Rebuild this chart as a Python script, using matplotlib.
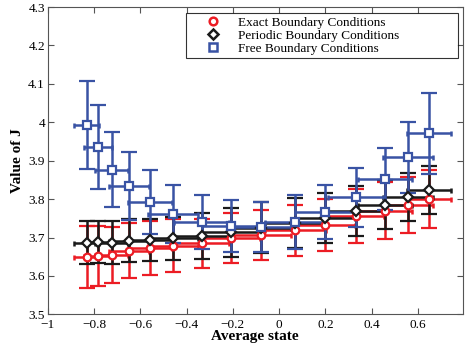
import numpy as np
import matplotlib
matplotlib.use('Agg')
import matplotlib.pyplot as plt
from matplotlib.lines import Line2D
from matplotlib.ticker import FuncFormatter, MultipleLocator

plt.rcParams['font.family'] = ['Liberation Serif', 'DejaVu Serif']

# dados
estado_medio = [-0.832, -0.784, -0.724, -0.648, -0.558, -0.457, -0.335, -0.208,
                -0.079, 0.071, 0.198, 0.332, 0.457, 0.558, 0.648]
erro_estado = [0.054, 0.060, 0.073, 0.086, 0.095, 0.108, 0.120, 0.125,
               0.130, 0.130, 0.130, 0.120, 0.116, 0.108, 0.093]

j_exato = [3.649, 3.652, 3.654, 3.666, 3.672, 3.679, 3.685, 3.698,
           3.706, 3.719, 3.733, 3.755, 3.770, 3.785, 3.800]
erro_exato = [0.081, 0.077, 0.073, 0.072, 0.070, 0.068, 0.064, 0.065,
              0.065, 0.066, 0.068, 0.070, 0.075, 0.073, 0.076]

j_periodico = [3.687, 3.689, 3.686, 3.692, 3.694, 3.698, 3.705, 3.714,
               3.726, 3.737, 3.751, 3.769, 3.785, 3.806, 3.824]
erro_periodico = [0.056, 0.055, 0.056, 0.055, 0.055, 0.056, 0.060, 0.064,
                  0.066, 0.065, 0.065, 0.065, 0.064, 0.062, 0.063]

j_livre = [3.993, 3.936, 3.877, 3.834, 3.793, 3.762, 3.740, 3.730,
           3.728, 3.741, 3.766, 3.805, 3.852, 3.909, 3.971]
erro_livre = [0.115, 0.109, 0.097, 0.089, 0.083, 0.075, 0.071, 0.068,
              0.065, 0.070, 0.071, 0.077, 0.080, 0.093, 0.105]

rotulos = ['Exact Boundary Conditions', 'Periodic Boundary Conditions',
           'Free Boundary Conditions']

cor_vermelho = '#ec1c24'
cor_preto = '#1a1a1a'
cor_azul = '#3953a4'

fig = plt.figure(figsize=(4.69, 3.52), dpi=100)
ax = fig.add_axes([0.1017, 0.107, 0.885, 0.873])

series = [
    (j_exato, erro_exato, cor_vermelho, 'o'),
    (j_periodico, erro_periodico, cor_preto, 'D'),
    (j_livre, erro_livre, cor_azul, 's'),
]

for y, ey, cor, marc in series:
    # barras horizontais (tampas pequenas)
    ax.errorbar(estado_medio, y, xerr=erro_estado, color=cor, ls='none',
                elinewidth=1.8, capsize=1.8, capthick=1.8)
    # barras verticais com marcador
    ax.errorbar(estado_medio, y, yerr=ey, color=cor, ls='none',
                elinewidth=1.8, capsize=5.5, capthick=1.8,
                marker=marc, ms=5.5 if marc != 'D' else 5, mfc='white',
                mec=cor, mew=1.6)

handles = [Line2D([], [], ls='none', marker=m, color=c, mfc='white', mec=c,
                  mew=1.8, ms=5.5 if m != 'D' else 5)
           for _, _, c, m in series]
x0 = (186 - 47.7) / 415.3
x1 = (458 - 47.7) / 415.3
topo = 1 - (13 - 7) / 307.3
leg = ax.legend(handles, rotulos, loc='upper left',
                bbox_to_anchor=(x0, topo - 0.2, x1 - x0, 0.2), mode='expand',
                fontsize=9.5, frameon=True, fancybox=False, edgecolor='black',
                borderaxespad=0, handletextpad=0.05, labelspacing=0.05,
                borderpad=0.28, handlelength=3.6)
leg.get_frame().set_linewidth(0.8)

ax.set_xlim(-1, 0.794)
ax.set_ylim(3.5, 4.3)
ax.xaxis.set_major_locator(MultipleLocator(0.2))
ax.yaxis.set_major_locator(MultipleLocator(0.1))


def formatar(v, pos):
    v = round(v, 2)
    if abs(v) < 1e-9:
        return '0'
    s = f'{v:g}'
    return s.replace('-', '\u2212')


ax.xaxis.set_major_formatter(FuncFormatter(formatar))
ax.yaxis.set_major_formatter(FuncFormatter(formatar))
ax.tick_params(direction='in', top=True, right=True, length=4,
               labelsize=9.5, color='#555555', pad=2)
ax.tick_params(axis='x', pad=3.5)
for sp in ax.spines.values():
    sp.set_color('#555555')
    sp.set_linewidth(0.8)

ax.set_xlabel('Average state', fontsize=11, fontweight='bold', labelpad=-1)
ax.set_ylabel('Value of J', fontsize=11, fontweight='bold', labelpad=3)

fig.savefig('out.png', dpi=100)
